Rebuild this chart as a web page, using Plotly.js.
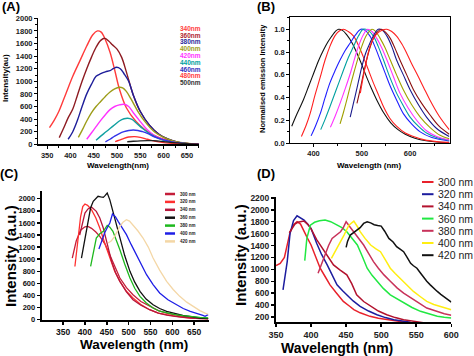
<!DOCTYPE html>
<html><head><meta charset="utf-8">
<script src="https://cdn.plot.ly/plotly-3.0.1.min.js"></script>
<style>html,body{margin:0;padding:0;background:#fff}#chart{width:474px;height:356px}</style>
</head><body><div id="chart"></div>
<script>
// ---------- Panel A data ----------
const aLabels = ['340nm','360nm','380nm','400nm','420nm','440nm','460nm','480nm','500nm'];
const aWl340 = [355,365,375,390,405,420,435,448,458,466,475,485,495,505,520,540,560,580,600,625,650,675];
const aInt340 = [265,380,520,800,1080,1320,1560,1740,1800,1780,1660,1460,1180,880,580,370,230,140,80,35,14,5];
const aWl360 = [376,385,395,405,415,425,435,445,455,465,474,482,490,500,510,520,535,550,570,590,610,630,650,675];
const aInt360 = [106,250,420,560,780,1000,1200,1380,1540,1650,1682,1640,1580,1510,1380,1150,780,520,300,160,80,35,14,5];
const aWl380 = [395,405,415,425,435,445,455,465,475,485,492,499,507,515,525,535,550,570,590,610,630,650,675];
const aInt380 = [80,200,380,600,800,950,1080,1120,1150,1170,1200,1222,1200,1120,1000,780,520,300,160,80,35,14,5];
const aWl400 = [417,425,435,445,455,465,475,485,495,505,512,520,530,545,560,580,600,620,640,660,675];
const aInt400 = [110,220,370,500,600,680,760,830,880,905,895,840,720,520,360,200,110,55,25,10,4];
const aWl420 = [435,445,455,465,475,485,495,505,515,525,535,550,565,580,600,620,640,660,675];
const aInt420 = [80,180,280,380,470,550,600,625,635,600,500,360,230,140,70,32,14,6,3];
const aWl440 = [455,465,475,485,495,505,515,523,532,542,555,570,590,610,630,650,675];
const aInt440 = [65,130,190,250,310,370,405,413,395,335,250,170,90,45,20,8,3];
const aWl460 = [475,485,495,505,515,525,535,545,555,565,580,600,620,645,675];
const aInt460 = [40,80,130,170,200,220,228,220,200,175,120,70,35,14,4];
const aWl480 = [496,505,515,525,538,550,565,580,600,625,650,675];
const aInt480 = [42,65,95,115,122,110,80,50,26,12,5,2];
const aWl500 = [522,535,550,565,578,590,605,620,640,660,675];
const aInt500 = [40,48,55,58,58,50,38,26,15,7,3];
const aTicksX = [350,400,450,500,550,600,650];

// ---------- Panel B data (normalised) ----------
const bWl1 = [355,365,379,390,400,410,421,430,438,445,452,460,469,480,490,500,510,520,531,545,560,575,590,610,630,655,681];
const bInt1 = [0.15,0.25,0.38,0.5,0.61,0.72,0.82,0.89,0.94,0.98,1.0,0.99,0.95,0.88,0.79,0.69,0.58,0.48,0.38,0.27,0.18,0.12,0.08,0.045,0.025,0.012,0.006];
const bWl2 = [375,385,393,403,414,424,434,444,452,462,472,483,493,503,514,524,535,545,558,572,590,607,630,655,681];
const bInt2 = [0.06,0.16,0.26,0.42,0.58,0.73,0.85,0.94,0.98,1.0,0.98,0.94,0.86,0.76,0.64,0.53,0.42,0.32,0.22,0.15,0.09,0.06,0.03,0.015,0.008];
const bWl3 = [395,404,414,424,434,445,455,465,476,487,498,507,517,527,538,548,559,572,586,603,621,645,681];
const bInt3 = [0.065,0.15,0.26,0.4,0.53,0.64,0.73,0.81,0.88,0.95,1.0,0.99,0.94,0.85,0.73,0.62,0.5,0.38,0.26,0.17,0.1,0.05,0.02];
const bWl4 = [415,424,434,448,462,472,483,493,503,513,524,534,545,558,572,586,600,617,634,655,681];
const bInt4 = [0.12,0.21,0.32,0.48,0.64,0.75,0.85,0.94,1.0,0.99,0.94,0.85,0.73,0.58,0.44,0.33,0.23,0.15,0.09,0.05,0.025];
const bWl5 = [435,445,455,465,476,485,493,503,512,521,531,541,552,565,579,596,614,634,655,681];
const bInt5 = [0.14,0.24,0.35,0.47,0.61,0.74,0.85,0.95,1.0,0.98,0.92,0.84,0.73,0.59,0.44,0.31,0.2,0.11,0.06,0.03];
const bWl6 = [455,462,469,476,483,491,500,510,521,529,538,548,559,572,586,603,621,641,662,681];
const bInt6 = [0.17,0.27,0.38,0.5,0.61,0.73,0.85,0.95,1.0,0.98,0.92,0.84,0.73,0.6,0.47,0.34,0.23,0.14,0.07,0.04];
const bWl7 = [476,481,486,493,500,508,517,525,534,543,552,562,572,586,600,617,634,655,681];
const bInt7 = [0.23,0.32,0.41,0.54,0.67,0.79,0.88,0.95,1.0,0.99,0.94,0.85,0.73,0.6,0.47,0.34,0.23,0.13,0.06];
const bWl8 = [490,497,503,510,517,524,531,541,550,559,569,579,593,607,624,641,660,681];
const bInt8 = [0.35,0.48,0.6,0.73,0.84,0.92,0.97,1.0,0.97,0.92,0.83,0.73,0.6,0.47,0.35,0.25,0.15,0.08];
const bWl9 = [497,502,507,512,517,524,531,541,552,562,572,583,593,603,614,628,641,660,681];
const bInt9 = [0.44,0.56,0.67,0.77,0.85,0.92,0.96,0.99,1.0,0.98,0.94,0.87,0.79,0.7,0.61,0.49,0.38,0.24,0.12];

// ---------- Panel C data ----------
const cLabels = ['300 nm','320 nm','340 nm','360 nm','380 nm','400 nm','420 nm'];
const cWl300 = [371,380,390,400,407,415,425,434,446,457,468,480,495,510,528,548,568,587,606,624,643,663,682];
const cInt300 = [1019,1300,1480,1535,1543,1510,1450,1377,1250,1074,880,689,530,413,300,220,150,110,80,55,40,28,17];
const cWl320 = [377,383,390,395,400,406,415,425,434,446,457,468,480,495,510,528,548,568,587,606,624,643,663,682];
const cInt320 = [880,1300,1700,1870,1912,1890,1818,1680,1515,1250,1019,800,634,470,358,250,165,110,83,60,40,28,20,14];
const cWl340 = [388,395,400,407,415,426,434,442,451,461,470,480,495,510,528,548,568,587,606,624,643,663,682];
const cInt340 = [1400,1640,1763,1830,1862,1791,1680,1515,1250,964,780,634,460,330,240,165,110,75,55,40,28,20,14];
const cWl360 = [392,400,407,413,419,425,430,436,442,446,451,457,464,472,480,491,503,514,526,540,556,571,587,606,624,643,663,682];
const cInt360 = [1019,1350,1625,1850,1956,2010,2039,2030,2022,2050,2094,1980,1791,1580,1350,1060,799,620,468,340,248,185,138,100,72,50,28,20];
const cWl380 = [413,420,426,434,442,451,457,464,472,480,491,503,514,526,540,556,571,587,606,624,643,663,682];
const cInt380 = [882,1150,1350,1420,1460,1559,1530,1460,1320,1157,920,689,520,386,280,193,140,110,85,66,50,39,30];
const cWl400 = [432,438,445,451,457,463,470,476,485,495,506,518,530,541,556,571,590,610,625,641,655,663,670,675,682];
const cInt400 = [1168,1300,1432,1520,1598,1747,1700,1625,1520,1405,1240,1074,900,744,580,441,330,248,185,138,110,94,70,55,83];
const cWl420 = [453,460,468,474,480,487,495,502,510,521,533,545,556,571,587,602,617,633,648,663,675,682];
const cInt420 = [1267,1300,1377,1470,1543,1610,1653,1630,1570,1470,1350,1200,1019,820,634,500,386,290,220,150,110,90];

// ---------- Panel D data ----------
const dLabels = ['300 nm','320 nm','340 nm','360 nm','380 nm','400 nm','420 nm'];
const dWl300 = [350,356,362,366,370,375,380,385,390,395,400,407,413,420,427,435,446,455,461,470,484,496,508,520,532,545,560,575,590,600];
const dInt300 = [1063,1100,1200,1400,1620,1750,1800,1760,1632,1520,1409,1200,1019,880,740,620,462,380,323,270,211,180,155,135,116,100,90,80,75,70];
const dWl320 = [360,363,366,370,375,380,385,390,395,400,408,415,423,430,437,445,451,460,470,482,494,506,518,530,542];
const dInt320 = [657,900,1130,1600,1820,1899,1870,1827,1760,1688,1437,1250,1074,900,740,640,573,470,378,300,239,190,155,130,111];
const dWl340 = [369,373,377,381,386,390,395,400,408,415,423,432,441,451,458,465,475,485,496,508,520,532,546,560,575,590,600];
const dInt340 = [1615,1700,1760,1790,1800,1810,1760,1680,1500,1380,1240,1074,990,907,760,573,460,378,300,239,190,155,128,105,90,80,70];
const dWl360 = [391,394,399,405,412,420,428,437,444,451,458,466,473,480,487,494,503,513,523,532,544,556,568,580,590,600];
const dInt360 = [1147,1520,1743,1790,1815,1827,1800,1743,1700,1632,1530,1409,1220,1019,900,796,680,573,500,434,360,295,250,211,195,183];
const dWl380 = [410,415,420,425,430,436,442,446,450,455,461,468,475,482,489,496,504,513,523,532,542,553,565,580,590,600];
const dInt380 = [935,1100,1242,1400,1520,1580,1632,1700,1799,1720,1632,1520,1409,1270,1130,1020,907,800,685,600,518,440,350,290,255,228];
const dWl400 = [429,433,437,442,447,454,461,466,470,477,485,492,499,506,513,520,527,536,546,556,565,575,590,600];
const dInt400 = [1186,1270,1353,1460,1576,1743,1810,1720,1632,1520,1409,1350,1297,1160,1019,930,852,740,629,540,462,410,350,323];
const dWl420 = [450,452,456,461,466,470,475,480,485,490,495,500,505,511,517,522,527,532,537,542,546,551,556,561,565,570,575,580,585,589,595,600];
const dInt420 = [1370,1470,1576,1620,1660,1700,1771,1799,1780,1750,1735,1726,1640,1520,1460,1381,1340,1297,1200,1102,1060,1019,940,852,800,740,680,629,580,545,500,451];

// ---------- styles ----------
const FONT = 'Liberation Sans, Arial, sans-serif';
const aColors = ['#ff3b3b','#8e1b22','#1e1e9a','#9c9c18','#ff33ff','#10a0a0','#3434e8','#ff3030','#222222'];
const aText = ['#ff4040','#b01e30','#2b2b9b','#a0a020','#ff33ff','#00a0a0','#3030c0','#ff4040','#333333'];
const bColors = ['#111111','#ff2020','#2020ff','#00a0a0','#ff33ff','#a0a000','#1a1a8c','#8b1010','#ff2020'];
const cColors = ['#c41e3a','#ff3030','#b5173b','#111111','#1db81d','#1f1fe6','#f4d7a6'];
const dColors = ['#e8212b','#1c1c9e','#b3122e','#21e842','#c8325a','#ffee11','#111111'];

const aSeries = [[aWl340,aInt340],[aWl360,aInt360],[aWl380,aInt380],[aWl400,aInt400],[aWl420,aInt420],[aWl440,aInt440],[aWl460,aInt460],[aWl480,aInt480],[aWl500,aInt500]];
const bSeries = [[bWl1,bInt1],[bWl2,bInt2],[bWl3,bInt3],[bWl4,bInt4],[bWl5,bInt5],[bWl6,bInt6],[bWl7,bInt7],[bWl8,bInt8],[bWl9,bInt9]];
const cSeries = [[cWl300,cInt300],[cWl320,cInt320],[cWl340,cInt340],[cWl360,cInt360],[cWl380,cInt380],[cWl400,cInt400],[cWl420,cInt420]];
const dSeries = [[dWl300,dInt300],[dWl320,dInt320],[dWl340,dInt340],[dWl360,dInt360],[dWl380,dInt380],[dWl400,dInt400],[dWl420,dInt420]];

const W = 474, H = 356;
const px = x => x / W, py = y => 1 - y / H;

const traces = [];
aSeries.forEach((s, i) => traces.push({x: s[0], y: s[1], xaxis: 'x', yaxis: 'y', mode: 'lines', name: aLabels[i],
  line: {color: aColors[i], width: 1.4, shape: 'spline', smoothing: 1}}));
bSeries.forEach((s, i) => traces.push({x: s[0], y: s[1], xaxis: 'x2', yaxis: 'y2', mode: 'lines',
  line: {color: bColors[i], width: 1.1, shape: 'spline', smoothing: 1}}));
cSeries.forEach((s, i) => traces.push({x: s[0], y: s[1], xaxis: 'x3', yaxis: 'y3', mode: 'lines', name: cLabels[i],
  line: {color: cColors[i], width: 1.3}}));
dSeries.forEach((s, i) => traces.push({x: s[0], y: s[1], xaxis: 'x4', yaxis: 'y4', mode: 'lines', name: dLabels[i],
  line: {color: dColors[i], width: 1.5}}));

function ax(o) {
  return Object.assign({showgrid: false, zeroline: false, showline: true, linecolor: '#000', ticks: 'outside',
    tickcolor: '#000', fixedrange: true}, o);
}
const tfA = {family: FONT, size: 7.5, color: '#222', weight: 'bold'};

const layout = {
  width: W, height: H, margin: {l: 0, r: 0, t: 0, b: 0}, paper_bgcolor: '#fff', plot_bgcolor: 'rgba(0,0,0,0)',
  showlegend: false, font: {family: FONT},
  xaxis: ax({domain: [px(38.3), px(199)], range: [331, 676], tickmode: 'array', tickvals: aTicksX, linewidth: 1.3, ticklen: 3,
    tickfont: tfA, anchor: 'y', minor: {dtick: 25, tick0: 0, ticks: 'outside', ticklen: 2, tickcolor: '#000'}}),
  yaxis: ax({domain: [py(144.3), py(18.3)], range: [0, 2000], dtick: 200, linewidth: 1.3, ticklen: 3,
    tickfont: tfA, anchor: 'x', minor: {dtick: 100, ticks: 'outside', ticklen: 2, tickcolor: '#000'}}),
  xaxis2: ax({domain: [px(290.3), px(449.7)], range: [352, 682], dtick: 100, linewidth: 1, ticklen: 3, mirror: true,
    tickfont: {family: FONT, size: 7.5, color: '#222', weight: 'bold'}, anchor: 'y2',
    minor: {dtick: 50, ticks: 'outside', ticklen: 2, tickcolor: '#000'}}),
  yaxis2: ax({domain: [py(143.3), py(16.7)], range: [0, 1.11], dtick: 0.2, tickformat: '.1f', linewidth: 1, ticklen: 3, mirror: true,
    tickfont: {family: FONT, size: 7.5, color: '#222', weight: 'bold'}, anchor: 'x2',
    minor: {dtick: 0.1, ticks: 'outside', ticklen: 2, tickcolor: '#000'}}),
  xaxis3: ax({domain: [px(41.7), px(209)], range: [301, 684], dtick: 50, linewidth: 2, ticklen: 3, tickwidth: 1.5,
    tickfont: {family: FONT, size: 8.5, color: '#111', weight: 'bold'}, anchor: 'y3'}),
  yaxis3: ax({domain: [py(319.7), py(191.3)], range: [0, 2122], dtick: 200, linewidth: 2, ticklen: 3, tickwidth: 1.5,
    tickfont: {family: FONT, size: 7.5, color: '#111', weight: 'bold'}, anchor: 'x3'}),
  xaxis4: ax({domain: [px(276), px(451.3)], range: [350, 600], dtick: 50, linewidth: 2, ticklen: 3, tickwidth: 1.5,
    tickfont: {family: FONT, size: 9, color: '#222', weight: 'bold'}, anchor: 'y4'}),
  yaxis4: ax({domain: [py(322), py(197)], range: [116, 2215], tick0: 0, dtick: 200, linewidth: 2, ticklen: 3, tickwidth: 1.5,
    tickfont: {family: FONT, size: 8.5, color: '#222', weight: 'bold'}, anchor: 'x4'}),
  annotations: [], shapes: []
};

function note(text, x, y, size, opts) {
  layout.annotations.push(Object.assign({text: text, xref: 'paper', yref: 'paper', x: px(x), y: py(y), showarrow: false,
    xanchor: 'center', yanchor: 'middle', font: {family: FONT, size: size, color: '#000', weight: 'bold'}}, opts || {}));
}
// panel letters
note('(A)', 0, 6.5, 13, {xanchor: 'left'});
note('(B)', 255, 7, 13, {xanchor: 'left'});
note('(C)', -2, 173.5, 13, {xanchor: 'left'});
note('(D)', 255, 173, 13, {xanchor: 'left'});
// axis titles
note('Intensity(au)', 5, 78, 8, {textangle: -90});
note('Wavelength(nm)', 117.5, 165, 8);
note('Normalised emission Intensity', 262, 79, 7.5, {textangle: -90});
note('Wavelength (nm)', 369, 165, 8);
note('Intensity (a.u.)', 10, 256, 15, {textangle: -90});
note('Wavelength (nm)', 133.5, 344.5, 13.5);
note('Intensity (a.u.)', 240, 255, 15, {textangle: -90});
note('Wavelength (nm)', 337, 348, 14);

// legend A: coloured labels
aLabels.forEach((t, i) => note(t, 178, 28.3 + 6.8 * i, 6.5, {xanchor: 'left', font: {family: FONT, size: 6.5, color: aText[i], weight: 'bold'}}));
// legend C
cLabels.forEach((t, i) => {
  const yy = 194 + 7.9 * i;
  layout.shapes.push({type: 'line', xref: 'paper', yref: 'paper', x0: px(165), x1: px(175), y0: py(yy), y1: py(yy), line: {color: cColors[i], width: 2.5}});
  note(t, 177.5, yy, 4.5, {xanchor: 'left', font: {family: FONT, size: 4.5, color: '#222', weight: 'bold'}});
});
// legend D
dLabels.forEach((t, i) => {
  const yy = 182 + 12.2 * i;
  layout.shapes.push({type: 'line', xref: 'paper', yref: 'paper', x0: px(422), x1: px(433.5), y0: py(yy), y1: py(yy), line: {color: dColors[i], width: 2}});
  note(t, 436, yy, 10.5, {xanchor: 'left', font: {family: FONT, size: 10.5, color: '#222', weight: 'normal'}});
});

Plotly.newPlot('chart', traces, layout, {staticPlot: true, displayModeBar: false});
</script></body></html>
